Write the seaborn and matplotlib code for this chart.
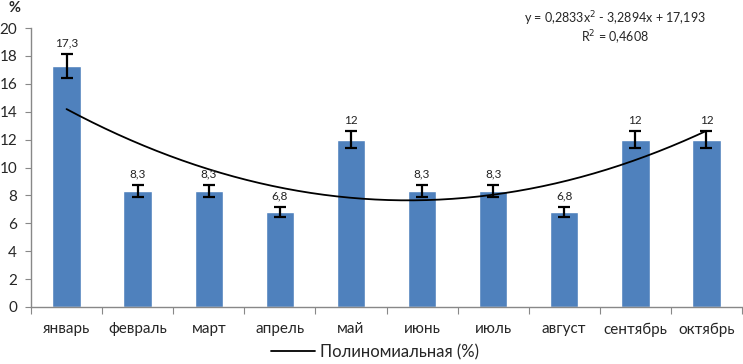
import matplotlib
matplotlib.use("Agg")
import matplotlib.pyplot as plt
import seaborn as sns
import numpy as np
import pandas as pd

months = ["январь", "февраль", "март", "апрель", "май", "июнь", "июль", "август", "сентябрь", "октябрь"]
values = [17.3, 8.3, 8.3, 6.8, 12, 8.3, 8.3, 6.8, 12, 12]
errors = [0.87, 0.42, 0.42, 0.34, 0.6, 0.42, 0.42, 0.34, 0.6, 0.6]
labels = ["17,3", "8,3", "8,3", "6,8", "12", "8,3", "8,3", "6,8", "12", "12"]
poly_coef = [0.2833, -3.2894, 17.193]

sns.set_style("white")
plt.rcParams['font.family'] = ['Lato', 'DejaVu Sans']

fig = plt.figure(figsize=(7.43, 3.64), dpi=100)
ax = fig.add_axes([31/743, 1-307/364, 1-31/743 - 1/743, (307-28)/364])

df = pd.DataFrame({"month": months, "value": values})
sns.barplot(data=df, x="month", y="value", color="#4F81BD", saturation=1, width=0.4, ax=ax, errorbar=None)
pos = np.arange(len(months))
ax.errorbar(pos, values, yerr=errors, fmt="none", ecolor="black", elinewidth=1.6, capsize=4.5, capthick=1.6)
for p, v, e, lab in zip(pos, values, errors, labels):
    ax.text(p, v + e + 0.4, lab, ha="center", va="bottom", fontsize=8.5, color="#222222")

xs = np.linspace(1, 10, 200)
ys = np.polyval(poly_coef, xs)
line, = ax.plot(xs - 1, ys, color="black", lw=1.3, label="Полиномиальная (%)")

ax.set_xlim(-0.5, len(months) - 0.5)
ax.set_ylim(0, 20)
ax.set_yticks(range(0, 21, 2))
ax.set_xlabel("")
ax.set_ylabel("")
ax.set_xticks(np.arange(-0.5, len(months), 1), minor=False)
ax.set_xticklabels([])
ax.set_xticks(pos, minor=True)
ax.set_xticklabels(months, minor=True, fontsize=11)
ax.tick_params(axis="x", which="major", length=5, color="#888888", direction="out", bottom=True)
ax.tick_params(axis="x", which="minor", length=0, pad=11)
ax.tick_params(axis="y", length=4, color="#888888", direction="out", left=True, labelsize=11, pad=6)
for s in ["top", "right"]:
    ax.spines[s].set_visible(False)
for s in ["left", "bottom"]:
    ax.spines[s].set_color("#888888")
    ax.spines[s].set_linewidth(1)

fig.text(15/743, 1-8/364, "%", ha="center", va="center", fontsize=10.5, fontweight="bold")
fig.text(615/743, 1-19/364, "y = 0,2833x$^{2}$ - 3,2894x + 17,193", ha="center", va="center", fontsize=9)
fig.text(615/743, 1-38/364, "R$^{2}$ = 0,4608", ha="center", va="center", fontsize=9)

fig.legend(handles=[line], loc="center", bbox_to_anchor=(375/743, 1-352/364), frameon=False,
           fontsize=12, handlelength=2.6, handletextpad=0.3)

fig.savefig("out.png", dpi=100)
